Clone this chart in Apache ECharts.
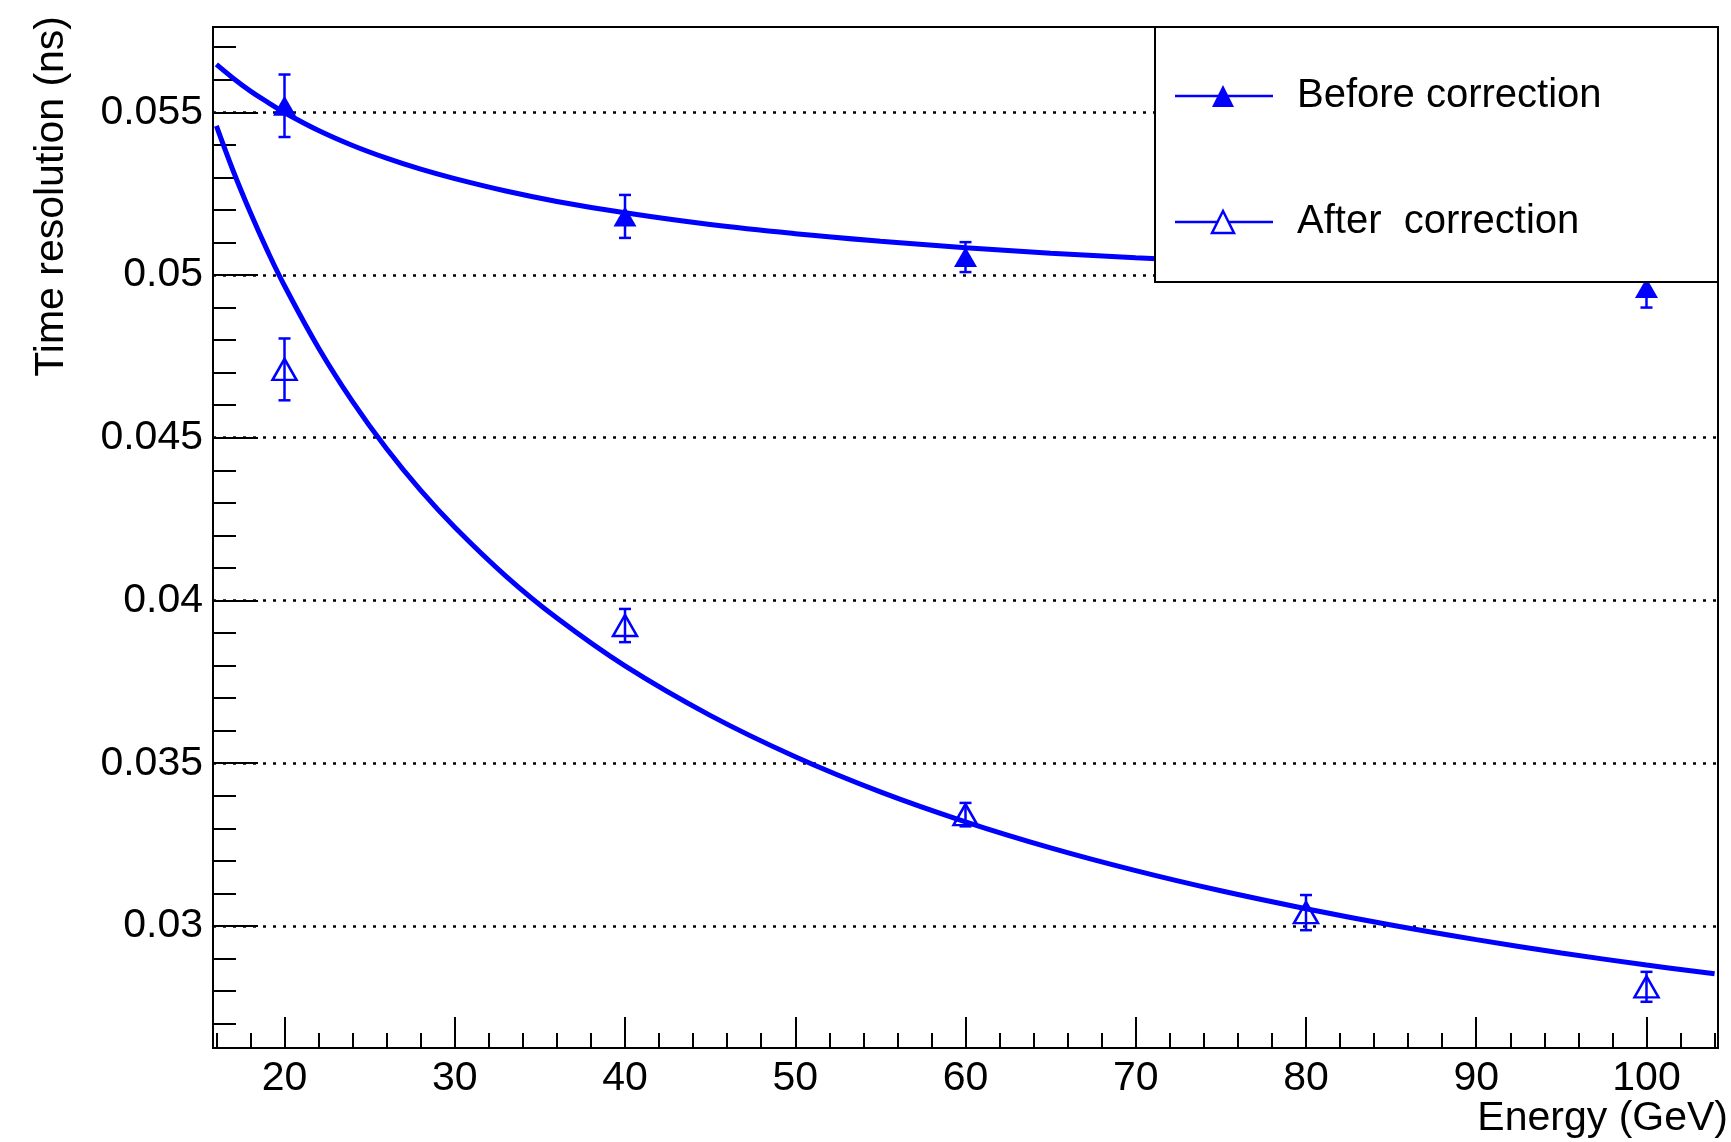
<!DOCTYPE html>
<html>
<head>
<meta charset="utf-8">
<script src="https://cdn.jsdelivr.net/npm/echarts@6/dist/echarts.min.js"></script>
<style>
  html, body { margin: 0; padding: 0; background: #ffffff; }
  #chart { width: 1731px; height: 1142px; }
</style>
</head>
<body>
<div id="chart"></div>
<script>
// Measured time resolution (ns) versus beam energy (GeV)
const energies   = [20, 40, 60, 80, 100];
const beforeVals = [0.0552, 0.0518, 0.05055, 0.0504, 0.0496];
const beforeErrs = [0.00096, 0.00066, 0.00046, 0.0004, 0.0006];
const afterVals  = [0.0471, 0.03923, 0.03342, 0.03041, 0.02813];
const afterErrs  = [0.00095, 0.00051, 0.00036, 0.00054, 0.00046];

// Fitted resolution curves, sampled along the energy range
const fitEnergies = [16, 17, 18, 19, 20, 22, 24, 26, 28, 30, 33, 36, 40, 45, 50, 55, 60, 65, 70, 75, 80, 85, 90, 95, 100, 104];
const beforeFit = [0.05647, 0.05604, 0.05565, 0.05531, 0.05499, 0.05444, 0.05398, 0.05359, 0.05325, 0.05296,
                   0.05258, 0.05226, 0.05191, 0.05155, 0.05127, 0.05104, 0.05084, 0.05067, 0.05053, 0.05041,
                   0.05030, 0.05020, 0.05011, 0.05004, 0.04997, 0.04992];
const afterFit  = [0.05458, 0.05318, 0.05191, 0.05074, 0.04967, 0.04776, 0.04611, 0.04466, 0.04338, 0.04225,
                   0.04075, 0.03946, 0.03799, 0.03647, 0.03520, 0.03412, 0.03320, 0.03240, 0.03170, 0.03108,
                   0.03053, 0.03003, 0.02958, 0.02917, 0.02880, 0.02853];

// Axis ticks
const xMajorTicks = [20, 30, 40, 50, 60, 70, 80, 90, 100];
const xMinorTicks = [16, 18, 20, 22, 24, 26, 28, 30, 32, 34, 36, 38, 40, 42, 44, 46, 48, 50, 52, 54, 56, 58, 60,
                     62, 64, 66, 68, 70, 72, 74, 76, 78, 80, 82, 84, 86, 88, 90, 92, 94, 96, 98, 100, 102, 104];
const yMajorTicks = [0.03, 0.035, 0.04, 0.045, 0.05, 0.055];
const yMinorTicks = [0.027, 0.028, 0.029, 0.03, 0.031, 0.032, 0.033, 0.034, 0.035, 0.036, 0.037, 0.038, 0.039,
                     0.04, 0.041, 0.042, 0.043, 0.044, 0.045, 0.046, 0.047, 0.048, 0.049, 0.05, 0.051, 0.052,
                     0.053, 0.054, 0.055, 0.056, 0.057];

const X_MIN = 15.8, X_MAX = 104.2;
const Y_MIN = 0.02625, Y_MAX = 0.05762;

const BLUE = '#0000ff';
const FONT = '"Liberation Sans", Arial, Helvetica, sans-serif';

const errorRows = (vals, errs) => energies.map((e, i) => [e, vals[i] - errs[i], vals[i] + errs[i]]);
const pointRows = (vals) => energies.map((e, i) => [e, vals[i]]);
const fitRows = (vals) => fitEnergies.map((e, i) => [e, vals[i]]);

function renderErrorBar(params, api) {
  const x = api.value(0);
  const lo = api.coord([x, api.value(1)]);
  const hi = api.coord([x, api.value(2)]);
  const cap = 6;
  const style = { stroke: BLUE, lineWidth: 2.5 };
  return {
    type: 'group',
    children: [
      { type: 'line', shape: { x1: lo[0], y1: lo[1], x2: hi[0], y2: hi[1] }, style },
      { type: 'line', shape: { x1: lo[0] - cap, y1: lo[1], x2: lo[0] + cap, y2: lo[1] }, style },
      { type: 'line', shape: { x1: hi[0] - cap, y1: hi[1], x2: hi[0] + cap, y2: hi[1] }, style }
    ]
  };
}

const tickLabel = { color: '#000', fontSize: 41, fontFamily: FONT };

// legend panel (drawn above the plot)
const LEG = { x: 1155, y: 27, w: 563, h: 255 };
const legendRows = [
  { label: 'Before correction', y: 96, filled: true },
  { label: 'After  correction', y: 222, filled: false }
];
const legendElements = [
  { type: 'rect', z: 100, shape: { x: LEG.x, y: LEG.y, width: LEG.w, height: LEG.h },
    style: { fill: '#fff', stroke: '#000', lineWidth: 2 } }
];
legendRows.forEach(r => {
  legendElements.push(
    { type: 'line', z: 101, shape: { x1: 1175, y1: r.y, x2: 1273, y2: r.y }, style: { stroke: BLUE, lineWidth: 2.5 } },
    { type: 'polygon', z: 102, shape: { points: [[1212, r.y + 11], [1234, r.y + 11], [1223, r.y - 11]] },
      style: r.filled ? { fill: BLUE } : { fill: '#fff', stroke: BLUE, lineWidth: 2.5 } },
    { type: 'text', z: 102, x: 1297, y: r.y,
      style: { text: r.label, fill: '#000', fontSize: 40, fontFamily: FONT, verticalAlign: 'middle' } }
  );
});

const option = {
  animation: false,
  backgroundColor: '#ffffff',
  grid: {
    left: 213, top: 27, right: 13, bottom: 94,
    show: true, borderColor: '#000', borderWidth: 2, backgroundColor: '#fff'
  },
  xAxis: [
    {
      type: 'value', min: X_MIN, max: X_MAX, position: 'bottom',
      axisLine: { show: true, lineStyle: { color: '#000', width: 2 } },
      axisTick: { show: true, inside: true, length: 31, customValues: xMajorTicks, lineStyle: { color: '#000', width: 2 } },
      axisLabel: Object.assign({ customValues: xMajorTicks, margin: 10 }, tickLabel),
      splitLine: { show: false }
    },
    {
      type: 'value', min: X_MIN, max: X_MAX, position: 'bottom',
      axisLine: { show: false },
      axisTick: { show: true, inside: true, length: 15, customValues: xMinorTicks, lineStyle: { color: '#000', width: 2 } },
      axisLabel: { show: false },
      splitLine: { show: false }
    }
  ],
  yAxis: [
    {
      type: 'value', min: Y_MIN, max: Y_MAX, position: 'left',
      axisLine: { show: true, lineStyle: { color: '#000', width: 2 } },
      axisTick: { show: true, inside: true, length: 45, customValues: yMajorTicks, lineStyle: { color: '#000', width: 2 } },
      axisLabel: Object.assign({ customValues: yMajorTicks, margin: 10 }, tickLabel),
      splitLine: { show: true, lineStyle: { color: '#000', width: 2.5, type: [3, 7] } }
    },
    {
      type: 'value', min: Y_MIN, max: Y_MAX, position: 'left',
      axisLine: { show: false },
      axisTick: { show: true, inside: true, length: 23, customValues: yMinorTicks, lineStyle: { color: '#000', width: 2 } },
      axisLabel: { show: false },
      splitLine: { show: false }
    }
  ],
  series: [
    {
      name: 'Before fit', type: 'line', data: fitRows(beforeFit), smooth: 0.4,
      showSymbol: false, lineStyle: { color: BLUE, width: 5 }, z: 3
    },
    {
      name: 'After fit', type: 'line', data: fitRows(afterFit), smooth: 0.4,
      showSymbol: false, lineStyle: { color: BLUE, width: 5 }, z: 3
    },
    {
      name: 'Before errors', type: 'custom', renderItem: renderErrorBar,
      data: errorRows(beforeVals, beforeErrs), encode: { x: 0, y: [1, 2] }, z: 4
    },
    {
      name: 'After errors', type: 'custom', renderItem: renderErrorBar,
      data: errorRows(afterVals, afterErrs), encode: { x: 0, y: [1, 2] }, z: 4
    },
    {
      name: 'Before correction', type: 'scatter', data: pointRows(beforeVals),
      symbol: 'triangle', symbolSize: [23, 20],
      itemStyle: { color: BLUE, opacity: 1 }, z: 5
    },
    {
      name: 'After  correction', type: 'scatter', data: pointRows(afterVals),
      symbol: 'triangle', symbolSize: [24, 21],
      itemStyle: { color: 'rgba(0,0,0,0)', borderColor: BLUE, borderWidth: 2.5, opacity: 1 }, z: 5
    }
  ],
  graphic: [
    {
      type: 'text', x: 52, y: 16, rotation: Math.PI / 2, z: 50,
      style: { text: 'Time resolution (ns)', fill: '#000', fontSize: 41, fontFamily: FONT,
               align: 'right', verticalAlign: 'middle' }
    },
    {
      type: 'text', x: 1728, y: 1119, z: 50,
      style: { text: 'Energy (GeV)', fill: '#000', fontSize: 41, fontFamily: FONT,
               align: 'right', verticalAlign: 'middle' }
    }
  ].concat(legendElements)
};

const chart = echarts.init(document.getElementById('chart'), null, { renderer: 'canvas' });
chart.setOption(option);
</script>
</body>
</html>
